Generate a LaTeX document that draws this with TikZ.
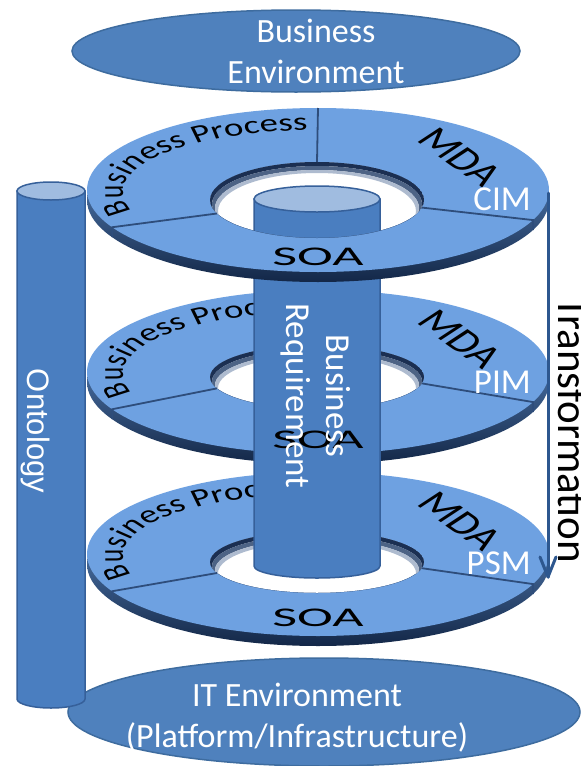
\documentclass[tikz,border=0pt]{standalone}
\usepackage{fontspec}
\usepackage{graphicx}
\usetikzlibrary{decorations.text}
\newfontfamily\carl{Carlito}
\newfontfamily\lsans{Liberation Sans}
\definecolor{envfill}{HTML}{4F81BD}
\definecolor{envdraw}{HTML}{3E6C9F}
\definecolor{ringface}{HTML}{6EA1E1}
\definecolor{ringmid}{HTML}{4C78B4}
\definecolor{ringdark}{HTML}{132747}
\definecolor{holedark}{HTML}{1B2F52}
\definecolor{holemid}{HTML}{4D6385}
\definecolor{holelight}{HTML}{AEBBCF}
\definecolor{groovec}{HTML}{2E4D7B}
\definecolor{cylbody}{HTML}{4A7EC0}
\definecolor{cyltop}{HTML}{A0BCE0}
\definecolor{cyldraw}{HTML}{36609A}
\definecolor{arrowc}{HTML}{2D578F}
\newcommand\bpfont{\carl\fontsize{37}{37}\selectfont}
\tikzset{
  envellipse/.style={fill=envfill, draw=envdraw, line width=1.5pt},
  envtext/.style={text=white, font={\carl\fontsize{34}{41}\selectfont}, align=center, inner sep=0pt},
  cylstyle/.style={fill=cylbody, draw=cyldraw, line width=1.5pt},
  cyltopstyle/.style={fill=cyltop, draw=cyldraw, line width=1.5pt},
  groove/.style={draw=groovec, line width=1.8pt},
  lbl/.style={text=white, font={\carl\fontsize{35}{35}\selectfont}, inner sep=0pt},
  soatext/.style={text=black, font={\carl\fontsize{36}{36}\selectfont}, inner sep=0pt},
  mdatext/.style={text=black, font={\carl\fontsize{48}{48}\selectfont}, inner sep=0pt},
  ontotext/.style={text=white, font={\lsans\fontsize{31}{31}\selectfont}, inner sep=0pt},
  brtext/.style={text=white, font={\carl\fontsize{35}{40}\selectfont}, align=center, inner sep=0pt},
  trtext/.style={text=black, font={\carl\fontsize{43}{43}\selectfont}, inner sep=0pt},
  transline/.style={draw=arrowc, line width=3pt, line cap=round, line join=round},
}
% ring body: #1 face centre y, #2 hole centre y, #3 hole y radius
\newcommand\ringbody[3]{%
  \shade[even odd rule, top color=ringface, middle color=ringmid, bottom color=ringdark]
    (318,{#1+10}) ellipse[x radius=231, y radius=82] (317,#2) ellipse[x radius=107, y radius=#3];
  \fill[ringface, even odd rule]
    (318,#1) ellipse[x radius=231, y radius=82] (317,#2) ellipse[x radius=107, y radius=#3];
  \begin{scope}
    \clip (317,#2) ellipse[x radius=107, y radius=#3];
    \fill[holedark, even odd rule] (317,#2) ellipse[x radius=107, y radius=#3]
      (317,{#2+4}) ellipse[x radius=105, y radius=#3];
    \fill[holemid, even odd rule] (317,{#2+4}) ellipse[x radius=105, y radius=#3]
      (317,{#2+8}) ellipse[x radius=102, y radius=#3];
    \fill[holelight, even odd rule] (317,{#2+8}) ellipse[x radius=102, y radius=#3]
      (317,{#2+11}) ellipse[x radius=99, y radius=#3];
  \end{scope}
  \draw[groove] (318,{#1-82}) -- (317,{#2-#3});
  \draw[groove] ({317+107*cos(200.8)},{#2-#3*sin(200.8)}) -- ({318+231*cos(207)},{#1-82*sin(207)}) -- ++(0,10);
  \draw[groove] ({317+107*cos(-11.5)},{#2-#3*sin(-11.5)}) -- ({318+231*cos(-21.5)},{#1-82*sin(-21.5)}) -- ++(0,10);
}
% words on the ring top: #1 face centre y, #2 name suffix
\newcommand\ringwords[2]{%
  \begin{scope}[transform canvas={shift={(318,{#1+2})}, yscale=0.68}]
    \path[decorate, decoration={text along path, text align=left, text={|\bpfont|Business Process}}]
      ({195*cos(-198)},{91*sin(-198)}) arc[start angle=-198, end angle=-88, x radius=195, y radius=91];
    \node[mdatext, rotate=-46] (mda#2) at (142,-52) {MDA};
  \end{scope}
}
\begin{document}
\begin{tikzpicture}[x=1pt,y=-1pt]
\useasboundingbox (0,0) rectangle (581,766);
\fill[white] (0,0) rectangle (581,766);

% environments
\draw[envellipse] (296,51) ellipse[x radius=224, y radius=41];
\node[envtext] (benv) at (316,51) {Business\\Environment};
\draw[envellipse] (324,712) ellipse[x radius=256, y radius=54];
\node[envtext] (itenv) at (297,718) {IT Environment\\(Platform/Infrastructure)};

% ontology cylinder
\draw[cylstyle] (17,191) -- (17,699) arc[start angle=180, end angle=0, x radius=34, y radius=9] -- (85,191) -- cycle;
\draw[cyltopstyle] (51,191) ellipse[x radius=34, y radius=9];
\node[ontotext, rotate=-90] (onto) at (36,431) {Ontology};

% ring 3 (PSM)
\ringbody{554}{562}{31}
\ringwords{554}{3}
\node[soatext] (soa3) at (318,618) {\scalebox{1.5}[0.75]{SOA}};
\node[lbl, anchor=east] (psm) at (531,563) {PSM};

% ring 2 (PIM)
\ringbody{372}{377}{32}
\ringwords{372}{2}
\node[lbl, anchor=east] (pim) at (531,382) {PIM};

% central cylinder
\draw[cylstyle] (254,199) -- (254,566) arc[start angle=180, end angle=0, x radius=63, y radius=12] -- (380,199) -- cycle;
\draw[cyltopstyle] (317,199) ellipse[x radius=63, y radius=13];

\node[soatext] (soa2) at (318,440) {\scalebox{1.5}[0.75]{SOA}};

% ring 1 (CIM)
\ringbody{190}{200}{38}
\ringwords{190}{1}
\node[soatext] (soa1) at (318,257) {\scalebox{1.5}[0.75]{SOA}};
\node[lbl, anchor=east] (cim) at (531,199) {CIM};

\node[brtext, rotate=-90] (breq) at (316,396) {Business\\Requirement};

% transformation arrow
\coordinate (tfa) at (548,193);
\coordinate (tfb) at (548,577);
\draw[transline] (tfa) -- (tfb);
\draw[transline] ([shift={(-8,-20)}]tfb) -- (tfb) -- ([shift={(8,-20)}]tfb);
\node[trtext, rotate=-90] (trans) at (573,430) {Transformation};
\end{tikzpicture}
\end{document}
